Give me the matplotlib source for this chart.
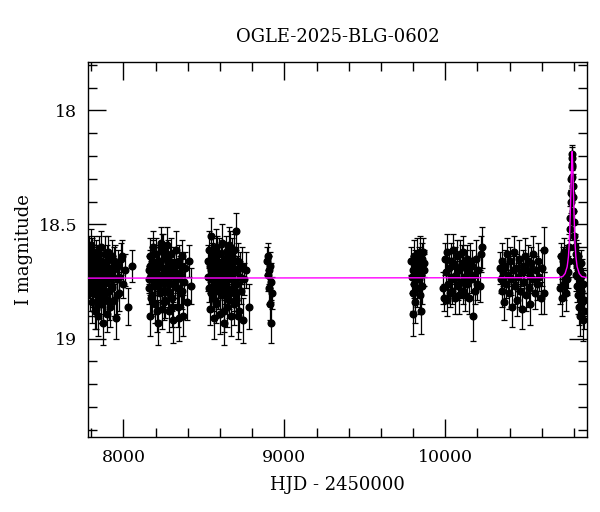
import matplotlib
matplotlib.use('Agg')
import matplotlib.pyplot as plt
from matplotlib.ticker import MultipleLocator

plt.rcParams['font.family'] = ['DejaVu Serif']

title = 'OGLE-2025-BLG-0602'

# photometry, one block per observing season (HJD - 2450000, I mag, error)
s1_t = [7786, 7789, 7792, 7795, 7798, 7801, 7804, 7807, 7810, 7813,
        7816, 7819, 7822, 7825, 7828, 7831, 7834, 7837, 7840, 7843,
        7846, 7849, 7852, 7856, 7859, 7862, 7866, 7869, 7873, 7876,
        7880, 7884, 7888, 7892, 7896, 7900, 7904, 7908, 7913, 7917,
        7922, 7927, 7932, 7937, 7942, 7948, 7954, 7960, 7967, 7975,
        7984, 7995, 8010, 8030, 8052,
        7788, 7794, 7800, 7805, 7812, 7818, 7824, 7830, 7838, 7845,
        7851, 7858, 7864, 7871, 7878, 7886, 7894, 7902, 7910, 7920,
        7930, 7944, 7958, 7972, 7990]
s1_m = [18.72, 18.61, 18.80, 18.68, 18.75, 18.59, 18.84, 18.70, 18.66, 18.78,
        18.73, 18.62, 18.88, 18.69, 18.76, 18.64, 18.81, 18.71, 18.67, 18.90,
        18.74, 18.63, 18.79, 18.70, 18.85, 18.66, 18.73, 18.77, 18.93, 18.68,
        18.75, 18.63, 18.82, 18.71, 18.89, 18.66, 18.74, 18.79, 18.69, 18.86,
        18.72, 18.64, 18.77, 18.70, 18.83, 18.67, 18.91, 18.74, 18.68, 18.80,
        18.65, 18.76, 18.70, 18.86, 18.68,
        18.76, 18.66, 18.71, 18.63, 18.80, 18.69, 18.74, 18.87, 18.65, 18.72,
        18.83, 18.60, 18.77, 18.70, 18.81, 18.67, 18.75, 18.62, 18.84, 18.71,
        18.78, 18.66, 18.81, 18.73, 18.64]
s1_e = [0.07, 0.06, 0.08, 0.07, 0.06, 0.07, 0.09, 0.06, 0.07, 0.08,
        0.06, 0.07, 0.08, 0.06, 0.07, 0.07, 0.08, 0.06, 0.07, 0.09,
        0.06, 0.08, 0.07, 0.06, 0.08, 0.07, 0.06, 0.07, 0.10, 0.06,
        0.07, 0.08, 0.07, 0.06, 0.08, 0.07, 0.06, 0.08, 0.07, 0.09,
        0.06, 0.07, 0.08, 0.06, 0.07, 0.08, 0.09, 0.06, 0.07, 0.08,
        0.07, 0.06, 0.07, 0.08, 0.07,
        0.06, 0.07, 0.06, 0.07, 0.08, 0.06, 0.07, 0.09, 0.06, 0.07,
        0.08, 0.07, 0.06, 0.07, 0.08, 0.06, 0.07, 0.07, 0.08, 0.06,
        0.07, 0.06, 0.08, 0.07, 0.07]

s2_t = [8156, 8160, 8164, 8168, 8172, 8176, 8180, 8184, 8188, 8192,
        8196, 8200, 8204, 8208, 8212, 8216, 8220, 8224, 8228, 8232,
        8236, 8240, 8244, 8248, 8252, 8256, 8260, 8264, 8268, 8272,
        8276, 8280, 8284, 8288, 8292, 8296, 8300, 8305, 8310, 8315,
        8320, 8325, 8330, 8335, 8340, 8346, 8352, 8358, 8364, 8370,
        8377, 8385, 8395, 8408, 8422,
        8158, 8166, 8174, 8182, 8190, 8198, 8206, 8214, 8222, 8230,
        8238, 8246, 8254, 8262, 8270, 8278, 8286, 8294, 8302, 8312,
        8322, 8332, 8343, 8355, 8367]
s2_m = [18.70, 18.78, 18.64, 18.90, 18.72, 18.67, 18.81, 18.60, 18.75, 18.69,
        18.85, 18.71, 18.63, 18.77, 18.68, 18.93, 18.74, 18.66, 18.80, 18.58,
        18.73, 18.87, 18.69, 18.62, 18.76, 18.71, 18.83, 18.65, 18.74, 18.59,
        18.79, 18.70, 18.88, 18.67, 18.73, 18.63, 18.82, 18.76, 18.92, 18.68,
        18.71, 18.61, 18.78, 18.74, 18.86, 18.66, 18.72, 18.80, 18.64, 18.90,
        18.75, 18.69, 18.84, 18.66, 18.77,
        18.74, 18.68, 18.82, 18.63, 18.77, 18.71, 18.88, 18.66, 18.73, 18.79,
        18.61, 18.75, 18.84, 18.69, 18.72, 18.64, 18.80, 18.70, 18.86, 18.67,
        18.76, 18.73, 18.91, 18.68, 18.79]
s2_e = [0.06, 0.07, 0.08, 0.09, 0.06, 0.07, 0.08, 0.07, 0.06, 0.07,
        0.08, 0.06, 0.07, 0.07, 0.08, 0.10, 0.06, 0.07, 0.08, 0.07,
        0.06, 0.09, 0.07, 0.08, 0.06, 0.07, 0.08, 0.07, 0.06, 0.08,
        0.07, 0.06, 0.09, 0.07, 0.08, 0.07, 0.06, 0.08, 0.10, 0.07,
        0.06, 0.08, 0.07, 0.06, 0.09, 0.07, 0.08, 0.06, 0.07, 0.09,
        0.08, 0.07, 0.08, 0.07, 0.08,
        0.06, 0.07, 0.08, 0.06, 0.07, 0.06, 0.09, 0.07, 0.06, 0.08,
        0.07, 0.06, 0.08, 0.07, 0.06, 0.07, 0.08, 0.06, 0.09, 0.07,
        0.06, 0.07, 0.10, 0.06, 0.08]

s3_t = [8526, 8530, 8534, 8538, 8542, 8546, 8550, 8554, 8558, 8562,
        8566, 8570, 8574, 8578, 8582, 8586, 8590, 8594, 8598, 8602,
        8606, 8610, 8614, 8618, 8622, 8626, 8630, 8634, 8638, 8642,
        8646, 8650, 8654, 8658, 8662, 8666, 8670, 8674, 8678, 8682,
        8686, 8690, 8694, 8698, 8702, 8707, 8712, 8717, 8722, 8728,
        8734, 8741, 8750, 8762, 8780,
        8528, 8536, 8544, 8552, 8560, 8568, 8576, 8584, 8592, 8600,
        8608, 8616, 8624, 8632, 8640, 8648, 8656, 8664, 8672, 8680,
        8688, 8696, 8704, 8714, 8725]
s3_m = [18.66, 18.78, 18.61, 18.87, 18.70, 18.55, 18.74, 18.82, 18.64, 18.91,
        18.69, 18.76, 18.60, 18.84, 18.72, 18.67, 18.79, 18.63, 18.89, 18.71,
        18.75, 18.58, 18.81, 18.68, 18.73, 18.93, 18.65, 18.77, 18.62, 18.86,
        18.70, 18.74, 18.59, 18.80, 18.67, 18.90, 18.72, 18.64, 18.78, 18.69,
        18.85, 18.61, 18.75, 18.53, 18.83, 18.70, 18.66, 18.88, 18.73, 18.79,
        18.68, 18.92, 18.74, 18.70, 18.86,
        18.73, 18.68, 18.80, 18.64, 18.76, 18.70, 18.85, 18.62, 18.74, 18.79,
        18.67, 18.72, 18.88, 18.65, 18.77, 18.69, 18.83, 18.60, 18.74, 18.71,
        18.80, 18.66, 18.76, 18.90, 18.69]
s3_e = [0.07, 0.06, 0.08, 0.07, 0.06, 0.08, 0.07, 0.06, 0.08, 0.09,
        0.07, 0.06, 0.08, 0.07, 0.06, 0.07, 0.08, 0.07, 0.09, 0.06,
        0.07, 0.08, 0.07, 0.06, 0.07, 0.10, 0.06, 0.08, 0.07, 0.09,
        0.06, 0.07, 0.08, 0.07, 0.06, 0.09, 0.07, 0.08, 0.06, 0.07,
        0.09, 0.07, 0.06, 0.08, 0.07, 0.06, 0.08, 0.09, 0.07, 0.06,
        0.08, 0.10, 0.07, 0.08, 0.10,
        0.06, 0.07, 0.08, 0.06, 0.07, 0.06, 0.08, 0.07, 0.06, 0.08,
        0.07, 0.06, 0.09, 0.07, 0.06, 0.07, 0.08, 0.07, 0.06, 0.07,
        0.08, 0.06, 0.07, 0.10, 0.07]

s4_t = [8892, 8896, 8899, 8903, 8906, 8910, 8913, 8917, 8920, 8924]
s4_m = [18.66, 18.72, 18.64, 18.78, 18.70, 18.85, 18.68, 18.75, 18.93, 18.80]
s4_e = [0.06, 0.07, 0.06, 0.07, 0.06, 0.07, 0.06, 0.08, 0.09, 0.07]

s5_t = [9790, 9794, 9797, 9800, 9802, 9805, 9808, 9811, 9814, 9818,
        9822, 9826, 9830, 9834, 9838, 9842, 9845, 9848, 9851, 9855,
        9858, 9862, 9866, 9870]
s5_m = [18.66, 18.73, 18.89, 18.70, 18.80, 18.64, 18.76, 18.68, 18.84, 18.71,
        18.63, 18.78, 18.69, 18.74, 18.66, 18.81, 18.62, 18.88, 18.72, 18.65,
        18.77, 18.62, 18.70, 18.67]
s5_e = [0.06, 0.07, 0.10, 0.06, 0.08, 0.07, 0.06, 0.07, 0.09, 0.06,
        0.07, 0.08, 0.06, 0.07, 0.06, 0.08, 0.07, 0.10, 0.06, 0.07,
        0.08, 0.06, 0.07, 0.06]

s6_t = [9988, 9993, 9998, 10003, 10008, 10013, 10018, 10023, 10028, 10033,
        10038, 10043, 10048, 10053, 10058, 10063, 10068, 10073, 10078, 10083,
        10088, 10093, 10098, 10103, 10108, 10113, 10118, 10123, 10128, 10133,
        10138, 10143, 10148, 10153, 10158, 10164, 10170, 10176, 10183, 10190,
        10198, 10206, 10214, 10222, 10230]
s6_m = [18.78, 18.82, 18.65, 18.71, 18.83, 18.62, 18.76, 18.69, 18.80, 18.73,
        18.66, 18.79, 18.61, 18.74, 18.82, 18.68, 18.72, 18.64, 18.77, 18.81,
        18.70, 18.63, 18.75, 18.67, 18.79, 18.62, 18.73, 18.81, 18.69, 18.65,
        18.76, 18.71, 18.82, 18.66, 18.74, 18.68, 18.90, 18.72, 18.79, 18.65,
        18.76, 18.70, 18.77, 18.63, 18.60]
s6_e = [0.07, 0.06, 0.07, 0.06, 0.07, 0.08, 0.06, 0.07, 0.06, 0.07,
        0.08, 0.06, 0.07, 0.06, 0.07, 0.08, 0.06, 0.07, 0.06, 0.08,
        0.07, 0.06, 0.07, 0.08, 0.06, 0.07, 0.06, 0.07, 0.08, 0.06,
        0.07, 0.06, 0.07, 0.08, 0.06, 0.07, 0.11, 0.07, 0.06, 0.08,
        0.07, 0.06, 0.07, 0.08, 0.09]

s7_t = [10340, 10345, 10350, 10356, 10362, 10368, 10374, 10380, 10386, 10392,
        10398, 10404, 10410, 10416, 10422, 10428, 10434, 10440, 10446, 10452,
        10458, 10464, 10470, 10476, 10482, 10488, 10494, 10500, 10506, 10512,
        10518, 10524, 10530, 10536, 10542, 10548, 10555, 10562, 10570, 10578,
        10586, 10595, 10604, 10612, 10614]
s7_m = [18.69, 18.74, 18.66, 18.79, 18.71, 18.84, 18.68, 18.76, 18.63, 18.72,
        18.80, 18.66, 18.74, 18.86, 18.70, 18.62, 18.77, 18.69, 18.83, 18.73,
        18.65, 18.79, 18.71, 18.87, 18.68, 18.75, 18.64, 18.81, 18.70, 18.66,
        18.78, 18.72, 18.85, 18.67, 18.74, 18.63, 18.80, 18.70, 18.76, 18.66,
        18.73, 18.82, 18.69, 18.80, 18.61]
s7_e = [0.07, 0.06, 0.08, 0.07, 0.06, 0.08, 0.07, 0.06, 0.07, 0.08,
        0.07, 0.06, 0.07, 0.09, 0.06, 0.07, 0.08, 0.06, 0.07, 0.06,
        0.08, 0.07, 0.06, 0.09, 0.07, 0.06, 0.08, 0.07, 0.06, 0.07,
        0.08, 0.06, 0.09, 0.07, 0.06, 0.08, 0.07, 0.06, 0.07, 0.08,
        0.06, 0.07, 0.08, 0.09, 0.10]

# 2025 season with the event
s8_t = [10712, 10716, 10720, 10724, 10728, 10732, 10736, 10740, 10744, 10748,
        10752, 10756, 10760, 10764, 10768, 10772,
        10775, 10777, 10780, 10782, 10784, 10786, 10788, 10789, 10790, 10791,
        10793, 10795, 10797, 10800, 10803,
        10806, 10809, 10812, 10815, 10818, 10821, 10824, 10827, 10830, 10833,
        10836, 10839, 10842, 10845, 10848, 10851, 10854, 10857, 10860, 10864]
s8_m = [18.70, 18.78, 18.64, 18.82, 18.71, 18.66, 18.76, 18.62, 18.73, 18.80,
        18.68, 18.74, 18.65, 18.71, 18.60, 18.66,
        18.52, 18.47, 18.40, 18.36, 18.30, 18.25, 18.21, 18.19, 18.24, 18.29,
        18.33, 18.38, 18.44, 18.49, 18.55,
        18.60, 18.66, 18.63, 18.72, 18.68, 18.77, 18.64, 18.81, 18.70, 18.86,
        18.74, 18.90, 18.67, 18.79, 18.84, 18.72, 18.92, 18.76, 18.83, 18.88]
s8_e = [0.06, 0.07, 0.06, 0.08, 0.07, 0.06, 0.07, 0.06, 0.07, 0.08,
        0.06, 0.07, 0.06, 0.07, 0.06, 0.07,
        0.05, 0.05, 0.05, 0.05, 0.05, 0.05, 0.05, 0.04, 0.05, 0.05,
        0.05, 0.05, 0.05, 0.05, 0.06,
        0.06, 0.07, 0.06, 0.07, 0.06, 0.07, 0.06, 0.08, 0.06, 0.08,
        0.07, 0.09, 0.06, 0.07, 0.08, 0.07, 0.09, 0.07, 0.08, 0.08]

seasons = [(s1_t, s1_m, s1_e), (s2_t, s2_m, s2_e), (s3_t, s3_m, s3_e),
           (s4_t, s4_m, s4_e), (s5_t, s5_m, s5_e), (s6_t, s6_m, s6_e),
           (s7_t, s7_m, s7_e), (s8_t, s8_m, s8_e)]

# model curve
model_t = [7781, 10700, 10730, 10745, 10758, 10766, 10772, 10777, 10781, 10785,
           10787, 10789, 10791, 10793, 10797, 10801, 10806, 10812, 10820, 10833,
           10848, 10880]
model_m = [18.735, 18.733, 18.728, 18.715, 18.685, 18.64, 18.57, 18.46, 18.36, 18.26,
           18.21, 18.18, 18.21, 18.26, 18.36, 18.46, 18.57, 18.64, 18.685, 18.715,
           18.728, 18.733]

fig = plt.figure(figsize=(6.0, 5.12), dpi=100)
ax = fig.add_axes([0.147, 0.147, 0.831, 0.731])

for t, m, e in seasons:
    ax.errorbar(t, m, yerr=e, fmt='o', color='black', ms=4.8, elinewidth=0.9,
                capsize=2.5, capthick=0.9, zorder=2)

ax.plot(model_t, model_m, color='#ff00ff', lw=1.0, zorder=3)

ax.set_xlim(7781, 10880)
ax.set_ylim(19.43, 17.79)

ax.xaxis.set_major_locator(MultipleLocator(1000))
ax.xaxis.set_minor_locator(MultipleLocator(200))
ax.yaxis.set_major_locator(MultipleLocator(0.5))
ax.yaxis.set_minor_locator(MultipleLocator(0.1))
ax.set_yticks([18, 18.5, 19])
ax.set_yticklabels(['18', '18.5', '19'])

ax.tick_params(which='both', direction='in', top=True, right=True, width=1,
               labelsize=12.5)
ax.tick_params(which='major', length=13)
ax.tick_params(which='minor', length=6.5)
ax.tick_params(axis='x', pad=9)
ax.tick_params(axis='y', pad=8)
for s in ax.spines.values():
    s.set_linewidth(1.0)

ax.set_xlabel('HJD - 2450000', fontsize=13, labelpad=7)
ax.set_ylabel('I magnitude', fontsize=13)
ax.set_title(title, fontsize=13, pad=15)

fig.savefig('out.png', dpi=100)
